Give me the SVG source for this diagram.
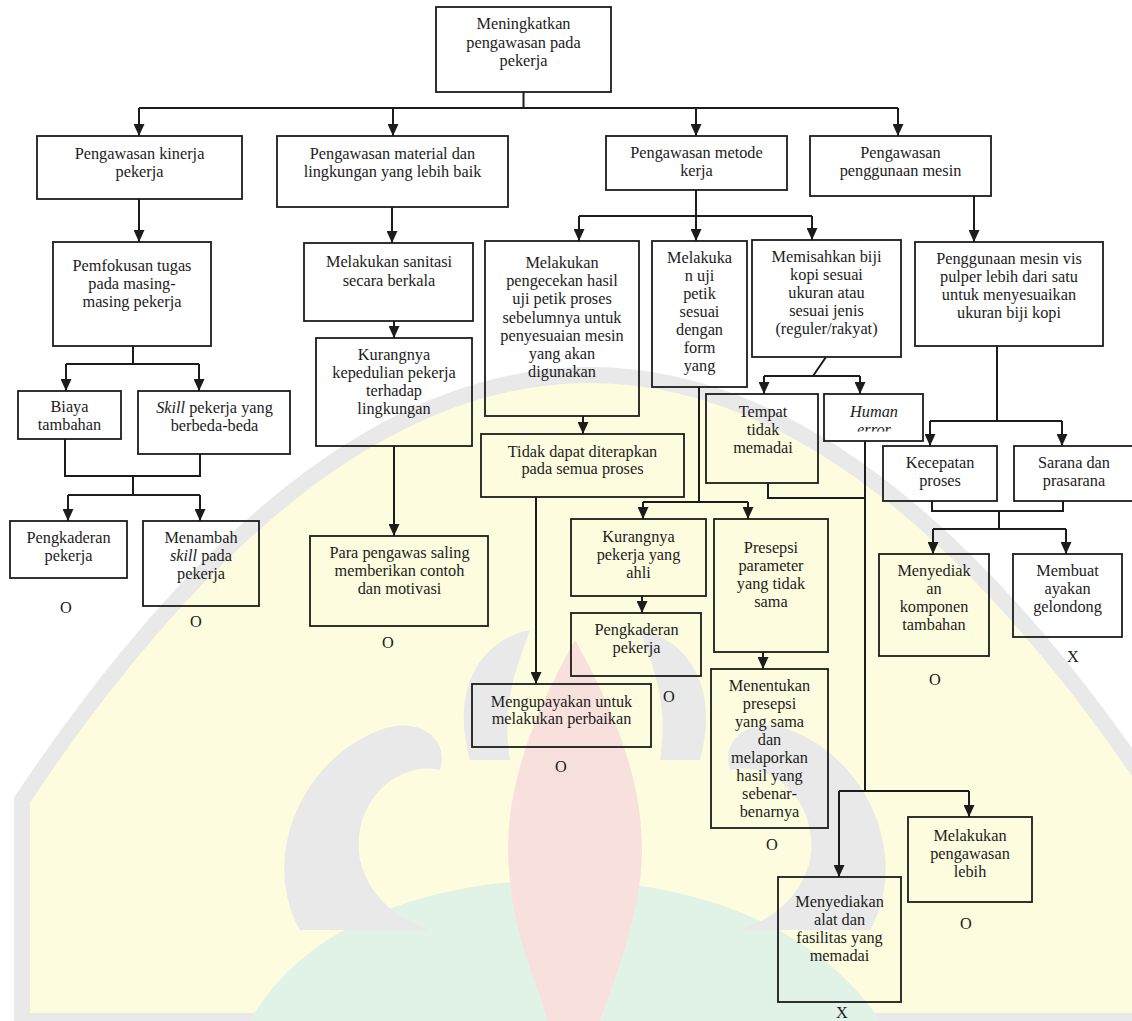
<svg xmlns="http://www.w3.org/2000/svg" width="1132" height="1021" viewBox="0 0 1132 1021">
<defs>
<style>
.bx{fill:none;stroke:#1c1c1c;stroke-width:1.8}
.c{fill:none;stroke:#1c1c1c;stroke-width:2}
.a{fill:none;stroke:#1c1c1c;stroke-width:2;marker-end:url(#ah)}
text{font-family:"Liberation Serif","Times New Roman",serif;font-size:16.3px;fill:#1c1c1c;text-anchor:middle}
.wm{fill:#e6e6e6}
</style>
<marker id="ah" viewBox="0 0 12 11" refX="12" refY="5.5" markerWidth="12" markerHeight="11" markerUnits="userSpaceOnUse" orient="auto">
<path d="M0,0 L12,5.5 L0,11 Z" fill="#1c1c1c"/>
</marker>
<clipPath id="clipHE"><rect x="824" y="394" width="99" height="37.5"/></clipPath>
</defs>
<rect width="1132" height="1021" fill="#ffffff"/>
<g id="watermark" opacity="0.85">
<path d="M22,1021 V800 Q590,-50 1158,800 V1021 Z" fill="#fdfcda" stroke="#e6e6e6" stroke-width="16"/>
<path d="M250,1021 C300,930 420,880 560,880 C700,880 820,930 880,1021 Z" fill="#dcf0e2"/>
<path d="M575,640 C620,720 650,800 640,880 C632,940 610,990 600,1021 L548,1021 C540,990 515,940 510,880 C500,800 530,720 575,640 Z" fill="#f7dcd7"/>
<path d="M300,930 C260,860 300,760 380,730 C420,715 450,740 440,770 C400,760 350,800 360,860 C370,900 400,920 430,930 Z" class="wm"/>
<path d="M470,760 C450,690 480,640 530,630 C520,660 500,700 510,760 Z" class="wm"/>
<path d="M700,760 C720,690 690,640 640,630 C650,660 670,700 660,760 Z" class="wm"/>
<path d="M870,930 C910,860 870,760 790,730 C750,715 720,740 730,770 C770,760 820,800 810,860 C800,900 770,920 740,930 Z" class="wm"/>
</g>
<g id="connectors">
<path class="c" d="M523.5,92 V108 M139,108 H898"/>
<path class="a" d="M139,108 V136"/>
<path class="a" d="M393,108 V136"/>
<path class="a" d="M696,108 V136"/>
<path class="a" d="M898,108 V136"/>
<path class="a" d="M139,199 V242"/>
<path class="a" d="M392,207 V243"/>
<path class="a" d="M394,321 V338"/>
<path class="a" d="M394,446 V536"/>
<path class="c" d="M133,346 V364 M66,364 H199"/>
<path class="a" d="M66,364 V391"/>
<path class="a" d="M199,364 V391"/>
<path class="c" d="M65,439 V476 H200 V454 M133,476 V495 M68,495 H200"/>
<path class="a" d="M68,495 V521"/>
<path class="a" d="M200,495 V521"/>
<path class="c" d="M696,190 V216 M579,216 H812"/>
<path class="a" d="M579,216 V241"/>
<path class="a" d="M696,216 V241"/>
<path class="a" d="M812,216 V240"/>
<path class="a" d="M974,196 V242"/>
<path class="a" d="M583,416 V434"/>
<path class="a" d="M536,497 V684"/>
<path class="c" d="M699,387 V502 M643,502 H748"/>
<path class="a" d="M643,502 V519"/>
<path class="a" d="M748,502 V519"/>
<path class="a" d="M642,596 V613"/>
<path class="a" d="M763,652 V669"/>
<path class="c" d="M826,357 L813,376 M764,376 H860"/>
<path class="a" d="M764,376 V394"/>
<path class="a" d="M860,376 V394"/>
<path class="c" d="M768,483 V498 H865"/>
<path class="c" d="M865,441 V791 M839,791 H969"/>
<path class="a" d="M839,791 V877"/>
<path class="a" d="M969,791 V817"/>
<path class="c" d="M997,346 V421 M930,421 H1062"/>
<path class="a" d="M930,421 V446"/>
<path class="a" d="M1062,421 V446"/>
<path class="c" d="M932,501 V511 H1063 V501 M999,511 V529 M933,529 H1066"/>
<path class="a" d="M933,529 V554"/>
<path class="a" d="M1066,529 V554"/>
</g>
<g id="n-top"><rect class="bx" x="436" y="7" width="175" height="85"/>
<text x="523.5" y="29">Meningkatkan</text><text x="523.5" y="47.5">pengawasan pada</text><text x="523.5" y="66">pekerja</text></g>
<g id="n-kinerja"><rect class="bx" x="37" y="136" width="205" height="63"/>
<text x="139.5" y="159">Pengawasan kinerja</text><text x="139.5" y="177">pekerja</text></g>
<g id="n-material"><rect class="bx" x="277" y="136" width="231" height="71"/>
<text x="392.5" y="159">Pengawasan material dan</text><text x="392.5" y="177">lingkungan yang lebih baik</text></g>
<g id="n-metode"><rect class="bx" x="606" y="136" width="181" height="54"/>
<text x="696.5" y="158">Pengawasan metode</text><text x="696.5" y="176">kerja</text></g>
<g id="n-mesin"><rect class="bx" x="810" y="136" width="181" height="60"/>
<text x="900.5" y="158">Pengawasan</text><text x="900.5" y="176">penggunaan mesin</text></g>
<g id="n-pemfokusan"><rect class="bx" x="53" y="242" width="158" height="104"/>
<text x="132" y="271">Pemfokusan tugas</text><text x="132" y="289">pada masing-</text><text x="132" y="307">masing pekerja</text></g>
<g id="n-sanitasi"><rect class="bx" x="304" y="243" width="169" height="78"/>
<text x="389" y="267">Melakukan sanitasi</text><text x="389" y="286">secara berkala</text></g>
<g id="n-kepedulian"><rect class="bx" x="316" y="338" width="156" height="108"/>
<text x="394" y="360">Kurangnya</text><text x="394" y="378">kepedulian pekerja</text><text x="394" y="396">terhadap</text><text x="394" y="414">lingkungan</text></g>
<g id="n-parapengawas"><rect class="bx" x="310" y="536" width="178" height="90"/>
<text x="399.5" y="558">Para pengawas saling</text><text x="399.5" y="576">memberikan contoh</text><text x="399.5" y="594">dan motivasi</text>
<text x="388" y="648">O</text></g>
<g id="n-biaya"><rect class="bx" x="18" y="391" width="103" height="48"/>
<text x="69.5" y="412">Biaya</text><text x="69.5" y="430">tambahan</text></g>
<g id="n-skill"><rect class="bx" x="138" y="391" width="152" height="63"/>
<text x="214.5" y="413"><tspan font-style="italic">Skill</tspan> pekerja yang</text><text x="214.5" y="431">berbeda-beda</text></g>
<g id="n-pengkaderan1"><rect class="bx" x="10" y="521" width="117" height="57"/>
<text x="68.5" y="543">Pengkaderan</text><text x="68.5" y="561">pekerja</text>
<text x="66" y="613">O</text></g>
<g id="n-menambah"><rect class="bx" x="143" y="521" width="116" height="85"/>
<text x="201" y="543">Menambah</text><text x="201" y="561"><tspan font-style="italic">skill</tspan> pada</text><text x="201" y="579">pekerja</text>
<text x="196" y="627">O</text></g>
<g id="n-pengecekan"><rect class="bx" x="485" y="241" width="154" height="175"/>
<text x="562" y="268">Melakukan</text><text x="562" y="286.2">pengecekan hasil</text><text x="562" y="304.4">uji petik proses</text><text x="562" y="322.6">sebelumnya untuk</text><text x="562" y="340.8">penyesuaian mesin</text><text x="562" y="359">yang akan</text><text x="562" y="377.2">digunakan</text></g>
<g id="n-ujipetik"><rect class="bx" x="652" y="241" width="95" height="146"/>
<text x="699.5" y="263">Melakuka</text><text x="699.5" y="281">n uji</text><text x="699.5" y="299">petik</text><text x="699.5" y="317">sesuai</text><text x="699.5" y="335">dengan</text><text x="699.5" y="353">form</text><text x="699.5" y="371">yang</text></g>
<g id="n-memisahkan"><rect class="bx" x="752" y="240" width="149" height="117"/>
<text x="826.5" y="262">Memisahkan biji</text><text x="826.5" y="280">kopi sesuai</text><text x="826.5" y="298">ukuran atau</text><text x="826.5" y="316">sesuai jenis</text><text x="826.5" y="334">(reguler/rakyat)</text></g>
<g id="n-penggunaan"><rect class="bx" x="915" y="242" width="188" height="104"/>
<text x="1009" y="264">Penggunaan mesin vis</text><text x="1009" y="282">pulper lebih dari satu</text><text x="1009" y="300">untuk menyesuaikan</text><text x="1009" y="318">ukuran biji kopi</text></g>
<g id="n-tidakdapat"><rect class="bx" x="481" y="434" width="203" height="63"/>
<text x="582.5" y="457">Tidak dapat diterapkan</text><text x="582.5" y="474">pada semua proses</text></g>
<g id="n-tempat"><rect class="bx" x="706" y="394" width="112" height="89"/>
<text x="763" y="417">Tempat</text><text x="763" y="435">tidak</text><text x="763" y="453">memadai</text></g>
<g id="n-human"><rect class="bx" x="824" y="394" width="99" height="47"/>
<text x="874" y="417" font-style="italic">Human</text><text x="874" y="435" font-style="italic" clip-path="url(#clipHE)">error</text></g>
<g id="n-kecepatan"><rect class="bx" x="883" y="446" width="114" height="55"/>
<text x="940" y="468">Kecepatan</text><text x="940" y="486">proses</text></g>
<g id="n-sarana"><rect class="bx" x="1014" y="446" width="130" height="55"/>
<text x="1074" y="468">Sarana dan</text><text x="1074" y="486">prasarana</text></g>
<g id="n-komponen"><rect class="bx" x="879" y="554" width="110" height="102"/>
<text x="934" y="576">Menyediak</text><text x="934" y="594">an</text><text x="934" y="612">komponen</text><text x="934" y="630">tambahan</text>
<text x="935" y="685">O</text></g>
<g id="n-ayakan"><rect class="bx" x="1013" y="554" width="109" height="83"/>
<text x="1067.5" y="576">Membuat</text><text x="1067.5" y="594">ayakan</text><text x="1067.5" y="612">gelondong</text>
<text x="1073" y="662">X</text></g>
<g id="n-kurangahli"><rect class="bx" x="571" y="519" width="135" height="77"/>
<text x="638.5" y="542">Kurangnya</text><text x="638.5" y="560">pekerja yang</text><text x="638.5" y="578">ahli</text></g>
<g id="n-pengkaderan2"><rect class="bx" x="571" y="613" width="130" height="63"/>
<text x="636.5" y="635">Pengkaderan</text><text x="636.5" y="653">pekerja</text>
<text x="669" y="702">O</text></g>
<g id="n-presepsi"><rect class="bx" x="714" y="519" width="114" height="133"/>
<text x="771" y="553">Presepsi</text><text x="771" y="571">parameter</text><text x="771" y="589">yang tidak</text><text x="771" y="607">sama</text></g>
<g id="n-menentukan"><rect class="bx" x="711" y="669" width="117" height="159"/>
<text x="769.5" y="691">Menentukan</text><text x="769.5" y="709">presepsi</text><text x="769.5" y="727">yang sama</text><text x="769.5" y="745">dan</text><text x="769.5" y="763">melaporkan</text><text x="769.5" y="781">hasil yang</text><text x="769.5" y="799">sebenar-</text><text x="769.5" y="817">benarnya</text>
<text x="772" y="850">O</text></g>
<g id="n-mengupayakan"><rect class="bx" x="472" y="684" width="179" height="63"/>
<text x="561.5" y="707">Mengupayakan untuk</text><text x="561.5" y="724">melakukan perbaikan</text>
<text x="561" y="772">O</text></g>
<g id="n-pengawasanlebih"><rect class="bx" x="908" y="817" width="124" height="85"/>
<text x="970" y="841">Melakukan</text><text x="970" y="859">pengawasan</text><text x="970" y="877">lebih</text>
<text x="966" y="929">O</text></g>
<g id="n-alat"><rect class="bx" x="778" y="877" width="123" height="125"/>
<text x="839.5" y="907">Menyediakan</text><text x="839.5" y="925">alat dan</text><text x="839.5" y="943">fasilitas yang</text><text x="839.5" y="961">memadai</text>
<text x="842" y="1018">X</text></g>
</svg>
